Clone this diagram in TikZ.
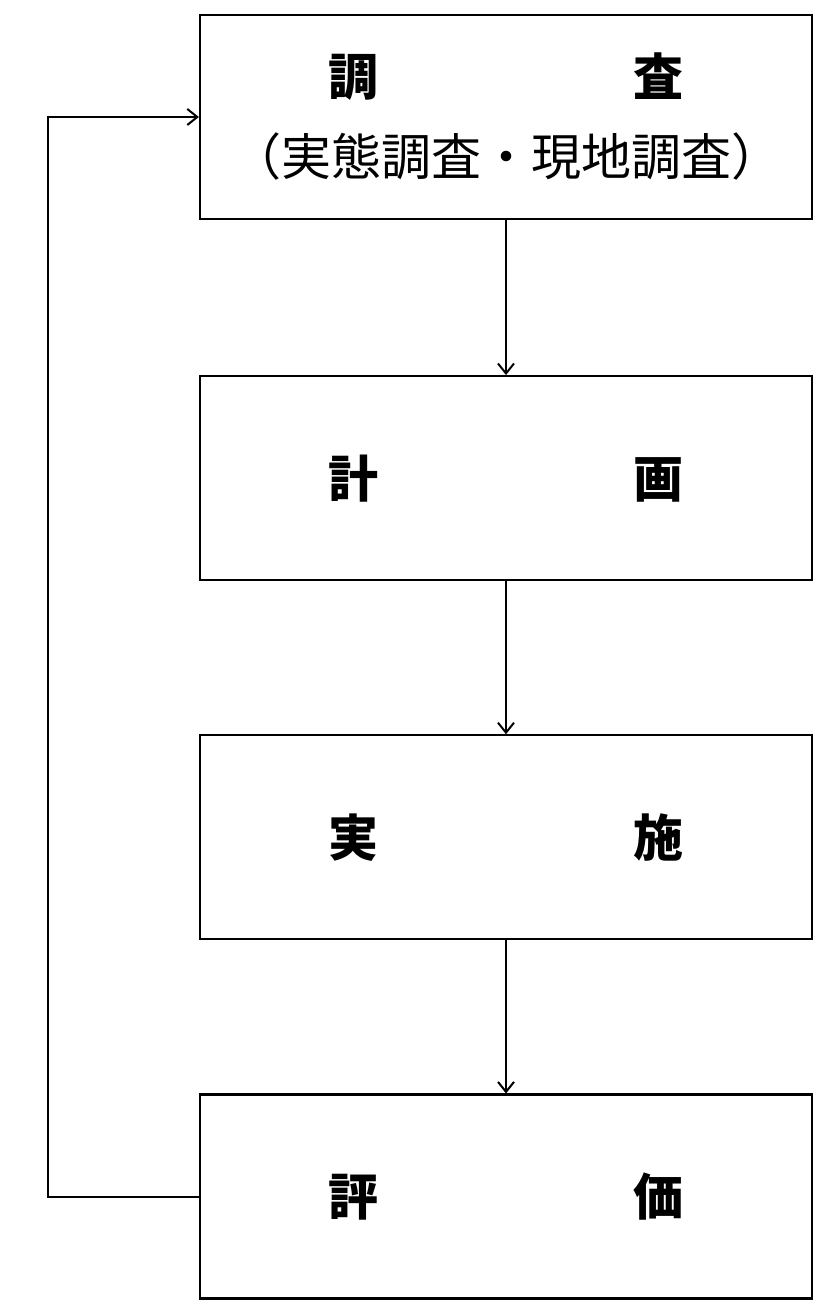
\documentclass[tikz,border=0pt]{standalone}
\usepackage{fontspec}
\newfontfamily\jpfont{Noto Sans CJK JP}
\usetikzlibrary{positioning, calc, arrows.meta}
\tikzset{
    blocco/.style={draw, line width=2.2pt, minimum width=612pt, minimum height=204pt, inner sep=0pt, align=center},
    freccia/.style={line width=2pt, -{Straight Barb[length=10pt,width=16pt]}}
}
\newcommand{\duecar}[2]{\makebox[355pt]{#1\hfill #2}}
\begin{document}
\begin{tikzpicture}[x=1pt, y=1pt, font=\jpfont\bfseries\fontsize{50}{60}\selectfont]
        %area del disegno
        \useasboundingbox (0,0) rectangle (838,1315);
        %blocchi
        \node[blocco] (ricerca) at (506,1198) {\duecar{調}{査}\\[20pt]{\mdseries\fontsize{50}{52}\selectfont （実態調査・現地調査）}};
        \node[blocco, below=155pt of ricerca] (piano) {\duecar{計}{画}};
        \node[blocco, below=153pt of piano] (attuazione) {\duecar{実}{施}};
        \node[blocco, below=153pt of attuazione] (valutazione) {\duecar{評}{価}};
        %frecce verticali
        \draw[freccia] (ricerca) -- (piano);
        \draw[freccia] (piano) -- (attuazione);
        \draw[freccia] (attuazione) -- (valutazione);
        %ritorno
        \coordinate (angolo) at (48,0);
        \draw[freccia] (valutazione.west) -- (valutazione.west -| angolo) |- (ricerca.west);
    \end{tikzpicture}
\end{document}
